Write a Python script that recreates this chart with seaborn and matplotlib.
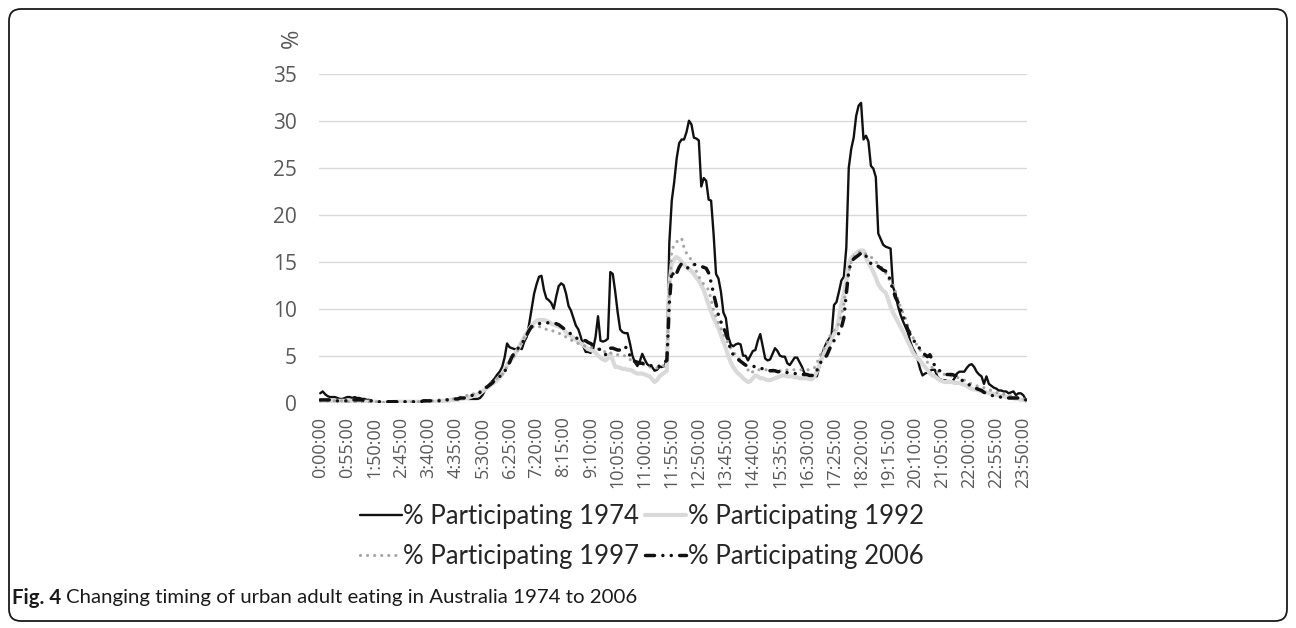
import numpy as np
import pandas as pd
import seaborn as sns
import matplotlib
matplotlib.use("Agg")
import matplotlib.pyplot as plt
from matplotlib.lines import Line2D
from matplotlib.patches import FancyBboxPatch
from matplotlib.transforms import IdentityTransform

# % of urban adults eating, one value per 5-minute slot (0:00 .. 23:55), one row per hour
pct_1974 = [
    1.0, 1.2, 0.9, 0.7, 0.6, 0.6, 0.6, 0.5, 0.4, 0.4, 0.5, 0.6,
    0.6, 0.5, 0.6, 0.5, 0.5, 0.4, 0.4, 0.3, 0.3, 0.2, 0.1, 0.1,
    0.1, 0.05, 0.05, 0.05, 0.1, 0.1, 0.1, 0.1, 0.1, 0.1, 0.1, 0.1,
    0.1, 0.1, 0.05, 0.05, 0.05, 0.05, 0.1, 0.1, 0.1, 0.1, 0.1, 0.15,
    0.2, 0.2, 0.2, 0.25, 0.3, 0.3, 0.3, 0.35, 0.4, 0.4, 0.45, 0.45,
    0.4, 0.4, 0.4, 0.4, 0.4, 0.5, 0.8, 1.3, 1.7, 2.0, 2.3, 2.6,
    3.0, 3.3, 3.8, 4.8, 6.3, 5.9, 5.8, 5.7, 5.7, 5.8, 5.7, 6.5,
    7.0, 8.4, 10.0, 11.6, 12.6, 13.4, 13.5, 12.0, 11.1, 10.9, 10.6, 10.0,
    11.3, 12.4, 12.7, 12.5, 11.6, 10.3, 9.8, 9.0, 8.2, 7.8, 7.0, 6.0,
    5.4, 5.4, 5.3, 5.7, 7.0, 9.2, 6.6, 6.5, 6.6, 6.8, 13.9, 13.7,
    11.8, 9.6, 7.8, 7.5, 7.4, 7.4, 6.3, 5.0, 4.3, 3.9, 4.4, 5.2,
    4.6, 4.1, 3.9, 3.8, 3.4, 3.5, 3.8, 3.8, 3.9, 4.5, 17.0, 21.5,
    23.5, 26.0, 27.6, 28.0, 28.0, 28.8, 30.0, 29.6, 28.2, 28.1, 27.9, 23.0,
    23.9, 23.6, 21.6, 21.5, 18.0, 13.7, 13.2, 11.8, 9.6, 9.0, 7.0, 6.2,
    6.0, 6.2, 6.3, 6.2, 5.0, 5.0, 4.5, 5.0, 5.5, 5.6, 6.6, 7.3,
    6.0, 4.7, 4.5, 4.6, 5.2, 5.8, 5.5, 5.0, 4.9, 4.9, 4.2, 4.0,
    4.4, 4.8, 4.8, 4.3, 3.8, 3.1, 3.0, 2.9, 2.9, 2.9, 2.8, 3.8,
    5.0, 5.8, 6.4, 6.8, 7.2, 10.4, 10.7, 11.8, 13.0, 13.4, 16.5, 25.0,
    27.0, 28.2, 30.5, 31.6, 31.9, 28.0, 28.4, 27.8, 25.2, 24.9, 24.0, 18.0,
    17.4, 16.8, 16.6, 16.5, 16.4, 12.3, 11.6, 10.3, 9.4, 8.7, 8.1, 7.5,
    6.5, 5.8, 5.3, 4.6, 3.6, 2.9, 3.1, 3.2, 3.4, 3.5, 3.5, 2.8,
    2.5, 2.4, 2.4, 2.3, 2.3, 2.2, 2.6, 3.1, 3.3, 3.3, 3.3, 3.7,
    4.0, 4.1, 3.8, 3.3, 3.0, 2.8, 2.0, 2.8, 2.0, 1.8, 1.6, 1.5,
    1.3, 1.3, 1.2, 1.2, 1.0, 1.1, 1.2, 0.8, 1.0, 1.0, 0.8, 0.3,
]

pct_1992 = [
    0.2, 0.2, 0.2, 0.2, 0.2, 0.2, 0.2, 0.2, 0.2, 0.2, 0.2, 0.2,
    0.2, 0.2, 0.2, 0.1, 0.1, 0.1, 0.1, 0.1, 0.1, 0.1, 0.1, 0.1,
    0.0, 0.0, 0.0, 0.0, 0.0, 0.0, 0.1, 0.1, 0.1, 0.1, 0.1, 0.1,
    0.1, 0.1, 0.1, 0.1, 0.1, 0.1, 0.1, 0.1, 0.1, 0.1, 0.1, 0.1,
    0.1, 0.2, 0.2, 0.2, 0.2, 0.3, 0.3, 0.3, 0.3, 0.4, 0.4, 0.5,
    0.5, 0.6, 0.7, 0.8, 0.9, 1.0, 1.2, 1.4, 1.6, 1.8, 2.0, 2.2,
    2.4, 2.7, 3.0, 3.5, 4.0, 4.4, 4.7, 5.1, 5.5, 6.0, 6.5, 7.0,
    7.4, 7.8, 8.2, 8.5, 8.7, 8.8, 8.8, 8.8, 8.7, 8.6, 8.4, 8.3,
    8.2, 8.1, 8.0, 7.8, 7.5, 7.3, 7.1, 6.9, 6.7, 6.5, 6.3, 6.1,
    5.9, 5.7, 5.6, 5.5, 5.3, 5.0, 4.8, 4.6, 4.5, 4.7, 5.2, 4.5,
    3.8, 3.8, 3.7, 3.6, 3.6, 3.5, 3.5, 3.4, 3.2, 3.1, 3.1, 3.1,
    3.0, 2.9, 2.8, 2.5, 2.2, 2.4, 2.8, 3.0, 3.2, 3.4, 12.5, 14.8,
    15.3, 15.5, 15.3, 15.0, 14.7, 14.4, 14.2, 14.0, 13.7, 13.3, 13.0, 12.5,
    12.0, 11.2, 10.4, 9.7, 9.0, 8.5, 7.9, 7.2, 6.5, 5.8, 5.0, 4.3,
    3.8, 3.4, 3.1, 2.9, 2.6, 2.4, 2.2, 2.3, 2.6, 2.9, 2.8, 2.6,
    2.6, 2.5, 2.4, 2.4, 2.5, 2.6, 2.7, 2.8, 2.9, 2.9, 2.8, 2.8,
    2.8, 2.7, 2.7, 2.6, 2.6, 2.6, 2.6, 2.5, 2.5, 2.8, 3.3, 4.0,
    4.7, 5.3, 5.8, 6.2, 6.7, 7.3, 7.8, 9.0, 10.5, 11.6, 13.0, 14.8,
    15.4, 15.7, 15.9, 16.1, 16.2, 16.2, 15.4, 14.9, 14.4, 13.9, 13.3, 12.6,
    12.2, 11.9, 11.7, 11.0, 10.2, 9.6, 9.1, 8.6, 8.1, 7.6, 7.1, 6.5,
    6.0, 5.4, 5.0, 4.7, 4.5, 4.1, 3.8, 3.5, 3.1, 2.9, 2.8, 2.6,
    2.4, 2.3, 2.2, 2.2, 2.2, 2.2, 2.1, 2.1, 2.1, 2.0, 1.9, 1.8,
    1.6, 1.5, 1.4, 1.4, 1.3, 1.2, 1.2, 1.1, 1.0, 1.0, 0.9, 0.8,
    0.8, 0.7, 0.7, 0.6, 0.6, 0.5, 0.5, 0.4, 0.4, 0.3, 0.3, 0.2,
]

pct_1997 = [
    0.2, 0.2, 0.2, 0.2, 0.2, 0.2, 0.2, 0.2, 0.2, 0.2, 0.1, 0.1,
    0.1, 0.1, 0.1, 0.1, 0.1, 0.1, 0.1, 0.1, 0.1, 0.1, 0.1, 0.1,
    0.1, 0.0, 0.0, 0.0, 0.0, 0.0, 0.0, 0.1, 0.1, 0.1, 0.1, 0.1,
    0.1, 0.1, 0.1, 0.1, 0.1, 0.2, 0.2, 0.2, 0.2, 0.2, 0.2, 0.3,
    0.3, 0.3, 0.3, 0.3, 0.4, 0.4, 0.4, 0.5, 0.5, 0.6, 0.6, 0.7,
    0.8, 0.8, 0.9, 1.0, 1.1, 1.2, 1.4, 1.6, 1.8, 2.0, 2.2, 2.4,
    2.6, 2.8, 3.0, 3.4, 3.8, 4.2, 4.6, 5.0, 5.4, 5.9, 6.4, 6.9,
    7.3, 7.7, 8.0, 8.1, 8.2, 8.1, 8.0, 7.9, 7.8, 7.8, 7.7, 7.6,
    7.5, 7.4, 7.3, 7.1, 7.0, 6.8, 6.7, 6.5, 6.4, 6.3, 6.2, 6.1,
    6.0, 6.0, 5.9, 5.9, 5.8, 5.7, 5.6, 5.5, 5.4, 5.2, 5.3, 5.2,
    5.2, 5.1, 5.1, 5.0, 5.0, 4.8, 4.6, 4.5, 4.4, 4.3, 4.2, 4.1,
    4.0, 3.9, 3.8, 3.8, 3.7, 3.7, 3.7, 3.8, 4.0, 4.5, 12.3, 16.2,
    16.8, 17.1, 17.4, 17.5, 16.5, 15.9, 15.5, 15.2, 14.6, 14.0, 13.4, 13.0,
    12.6, 12.3, 12.0, 11.0, 9.8, 9.2, 8.5, 7.9, 7.3, 6.8, 6.3, 5.8,
    5.4, 5.1, 4.8, 4.5, 4.2, 3.8, 3.5, 3.1, 3.3, 3.5, 3.5, 3.5,
    3.5, 3.5, 3.5, 3.5, 3.5, 3.4, 3.4, 3.4, 3.4, 3.4, 3.5, 3.5,
    3.5, 3.5, 3.5, 3.5, 3.5, 3.5, 3.5, 3.5, 3.6, 3.7, 4.2, 4.8,
    5.4, 5.8, 6.3, 6.9, 7.4, 7.7, 8.0, 8.4, 9.2, 10.5, 12.3, 13.8,
    15.0, 15.5, 15.9, 16.0, 16.1, 16.0, 15.8, 15.6, 15.5, 15.3, 15.0, 14.7,
    14.5, 14.2, 13.8, 13.3, 12.9, 12.5, 11.8, 11.0, 10.2, 9.6, 9.0, 8.2,
    7.5, 7.0, 6.5, 6.0, 5.6, 5.1, 4.7, 4.3, 4.0, 3.7, 3.5, 3.3,
    3.2, 3.1, 3.0, 2.9, 2.9, 2.8, 2.8, 2.7, 2.6, 2.5, 2.4, 2.2,
    2.1, 2.0, 1.9, 1.8, 1.7, 1.6, 1.6, 1.5, 1.4, 1.3, 1.2, 1.1,
    1.0, 1.0, 0.9, 0.9, 0.8, 0.7, 0.6, 0.6, 0.5, 0.5, 0.4, 0.3,
]

pct_2006 = [
    0.3, 0.3, 0.3, 0.3, 0.3, 0.3, 0.2, 0.2, 0.2, 0.2, 0.2, 0.2,
    0.3, 0.3, 0.3, 0.3, 0.3, 0.3, 0.2, 0.2, 0.2, 0.2, 0.1, 0.1,
    0.1, 0.1, 0.1, 0.1, 0.1, 0.1, 0.1, 0.1, 0.1, 0.1, 0.1, 0.1,
    0.1, 0.1, 0.1, 0.1, 0.1, 0.1, 0.2, 0.2, 0.2, 0.2, 0.2, 0.2,
    0.2, 0.2, 0.3, 0.3, 0.3, 0.3, 0.3, 0.4, 0.4, 0.5, 0.5, 0.5,
    0.6, 0.7, 0.8, 0.9, 1.0, 1.1, 1.3, 1.5, 1.7, 1.9, 2.1, 2.4,
    2.6, 2.8, 2.9, 3.3, 3.8, 4.3, 4.9, 5.3, 5.6, 6.0, 6.3, 6.7,
    7.2, 7.7, 8.1, 8.2, 8.3, 8.4, 8.5, 8.5, 8.5, 8.5, 8.5, 8.5,
    8.4, 8.3, 8.1, 7.9, 7.7, 7.5, 7.3, 7.0, 6.9, 6.8, 6.7, 6.6,
    6.6, 6.4, 6.3, 6.1, 6.0, 5.8, 5.6, 5.4, 5.1, 5.4, 5.8, 5.8,
    5.7, 5.6, 5.6, 5.8, 6.0, 5.6, 5.0, 4.5, 4.4, 4.3, 4.2, 4.2,
    4.1, 4.0, 4.0, 3.9, 3.9, 3.8, 3.9, 4.1, 4.3, 4.5, 10.5, 14.0,
    13.4, 13.8, 14.4, 14.8, 14.6, 14.4, 14.3, 14.5, 14.7, 14.7, 14.6, 14.5,
    14.4, 14.3, 13.8, 12.8, 11.6, 10.5, 9.3, 8.6, 8.0, 7.4, 6.5, 5.6,
    5.1, 4.9, 4.6, 4.4, 4.2, 4.0, 3.9, 3.9, 3.9, 3.8, 3.8, 3.7,
    3.6, 3.5, 3.5, 3.4, 3.4, 3.4, 3.3, 3.3, 3.3, 3.3, 3.2, 3.2,
    3.2, 3.1, 3.1, 3.1, 3.0, 3.0, 3.0, 2.9, 2.9, 2.9, 3.4, 4.0,
    4.5, 4.8, 5.0, 5.6, 6.2, 6.6, 7.0, 7.4, 8.0, 9.0, 11.6, 14.0,
    15.0, 15.3, 15.5, 15.7, 15.9, 16.0, 15.6, 15.2, 14.8, 14.7, 14.7, 14.5,
    14.3, 14.1, 14.0, 13.8, 12.8, 12.0, 11.2, 10.7, 10.0, 9.3, 8.5, 7.8,
    7.2, 6.8, 6.4, 6.1, 5.7, 5.4, 5.1, 4.9, 5.1, 4.5, 3.9, 3.6,
    3.4, 3.2, 3.1, 3.0, 3.0, 3.0, 2.9, 2.9, 2.7, 2.4, 2.2, 2.0,
    1.9, 1.8, 1.6, 1.5, 1.4, 1.3, 1.1, 1.0, 0.9, 0.8, 0.7, 0.6,
    0.6, 0.6, 0.6, 0.6, 0.5, 0.5, 0.5, 0.5, 0.5, 0.5, 0.4, 0.3,
]

tick_labels = [
    "0:00:00", "0:55:00", "1:50:00", "2:45:00", "3:40:00", "4:35:00",
    "5:30:00", "6:25:00", "7:20:00", "8:15:00", "9:10:00", "10:05:00",
    "11:00:00", "11:55:00", "12:50:00", "13:45:00", "14:40:00", "15:35:00",
    "16:30:00", "17:25:00", "18:20:00", "19:15:00", "20:10:00", "21:05:00",
    "22:00:00", "22:55:00", "23:50:00",
]
tick_every = 11  # one label every 11 slots (55 minutes)

slots = np.arange(len(pct_1974))
df = pd.DataFrame({
    "slot": slots,
    "% Participating 1974": pct_1974,
    "% Participating 1992": pct_1992,
    "% Participating 1997": pct_1997,
    "% Participating 2006": pct_2006,
})

# line look per series (Excel-ish greys, dotted, long dash dot dot)
styles = {
    "% Participating 1974": dict(color="#111111", linewidth=1.7, linestyle="-"),
    "% Participating 1992": dict(color="#d9d9d9", linewidth=3.0, linestyle="-"),
    "% Participating 1997": dict(color="#a6a6a6", linewidth=2.3,
                                 linestyle=(0, (0.01, 2.2)), dash_capstyle="round"),
    "% Participating 2006": dict(color="#111111", linewidth=2.5,
                                 linestyle=(0, (2.6, 2.4, 0.01, 2.4, 0.01, 2.4)),
                                 dash_capstyle="round"),
}

sns.set_theme(style="white")
plt.rcParams["font.family"] = ["Open Sans", "DejaVu Sans"]

fig = plt.figure(figsize=(12.96, 6.28), dpi=100)
ax = fig.add_axes([319 / 1296, 1 - 402.7 / 628, 708 / 1296, 329 / 628])

for name, kw in styles.items():
    sns.lineplot(data=df, x="slot", y=name, ax=ax, estimator=None, **kw)

ax.set_xlim(-0.5, len(slots) - 0.5)
ax.set_ylim(0, 35)
ax.set_yticks(range(0, 36, 5))
ax.set_xticks(slots[::tick_every])
ax.set_xticklabels(tick_labels, rotation=90)
ax.set_xlabel("")
ax.set_ylabel("")
ax.yaxis.grid(True, color="#d9d9d9", linewidth=1.0)
ax.xaxis.grid(False)
ax.set_axisbelow(True)
for spine in ax.spines.values():
    spine.set_visible(False)
ax.tick_params(axis="y", length=0, pad=16, labelsize=15, labelcolor="#595959")
ax.tick_params(axis="x", length=0, pad=10, labelsize=13, labelcolor="#595959")

fig.text(292 / 1296, 1 - 38 / 628, "%", rotation=90, fontsize=17,
         color="#595959", ha="center", va="center")

# Excel fills the legend row by row; matplotlib fills by column
names = list(styles.keys())
order = [0, 2, 1, 3]
handles = [Line2D([], [], **styles[names[i]]) for i in order]
fig.legend(handles, [names[i] for i in order], loc="center",
           bbox_to_anchor=(642 / 1296, 1 - 536.5 / 628), ncol=2, frameon=False,
           prop={"family": ["Lato", "DejaVu Sans"], "size": 18.5},
           labelcolor="#262626", handlelength=1.6, handletextpad=0.05,
           columnspacing=0.25, labelspacing=0.55, borderpad=0.2)

# caption under the chart
cap_y = 1 - 598 / 628
t1 = fig.text(12 / 1296, cap_y, "Fig. 4", fontsize=14.7, fontweight="bold",
              family=["Lato", "DejaVu Sans"], color="#1a1a1a", va="center")
fig.canvas.draw()
bb = t1.get_window_extent()
fig.text((bb.x1 + 5) / 1296, cap_y,
         "Changing timing of urban adult eating in Australia 1974 to 2006",
         fontsize=14.7, family=["Lato", "DejaVu Sans"], color="#1a1a1a", va="center")

# rounded frame round the whole figure
frame = FancyBboxPatch((9, 7), 1278, 612, boxstyle="round,pad=0,rounding_size=12",
                       transform=IdentityTransform(), fill=False,
                       edgecolor="#1a1a1a", linewidth=1.3)
fig.add_artist(frame)

fig.savefig("out.png", dpi=100)
